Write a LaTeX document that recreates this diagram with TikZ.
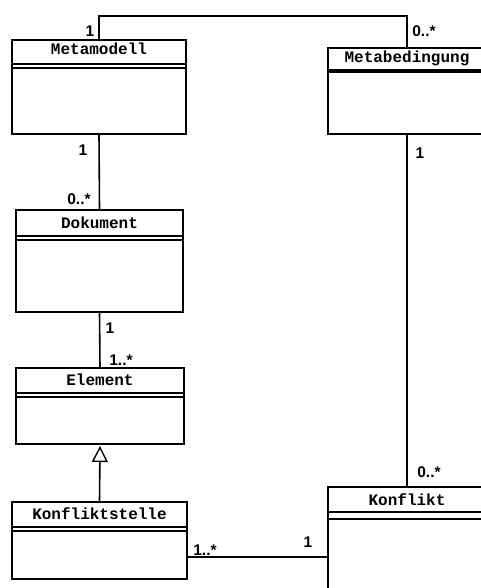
\documentclass[tikz,border=0pt]{standalone}
\usepackage{fontspec}
\setmainfont{Liberation Sans}
\newfontfamily\classfont{Liberation Mono}
\usetikzlibrary{calc,arrows.meta}
\begin{document}
\begin{tikzpicture}[x=1pt,y=-1pt,
  classbox/.style={draw,line width=1.6pt,anchor=north west,inner sep=0pt,outer sep=0pt},
  cname/.style={font=\classfont\bfseries\fontsize{16}{16}\selectfont,anchor=base,inner sep=0pt},
  hline/.style={line width=1.3pt},
  assoc/.style={line width=1.6pt},
  mult/.style={font=\bfseries\fontsize{15.5}{15.5}\selectfont,inner sep=0pt}]
\clip (0,0) rectangle (481,588);
\fill[white] (0,0) rectangle (481,588);

% classes
\node[classbox,minimum width=174,minimum height=94] (mm) at (12,40) {};
\node[cname] (mmt) at ($(mm.north)+(0,15)$) {Metamodell};
\draw[hline] ($(mm.north west)+(0,24)$) -- ($(mm.north east)+(0,24)$);
\draw[hline] ($(mm.north west)+(0,28)$) -- ($(mm.north east)+(0,28)$);

\node[classbox,minimum width=158,minimum height=86] (mb) at (328,48) {};
\node[cname] (mbt) at ($(mb.north)+(0,15)$) {Metabedingung};
\draw[line width=3.2pt] ($(mb.north west)+(0,23)$) -- ($(mb.north east)+(0,23)$);

\node[classbox,minimum width=167,minimum height=102] (dok) at (16,210) {};
\node[cname] (dokt) at ($(dok.north)+(0,18)$) {Dokument};
\draw[hline] ($(dok.north west)+(0,26)$) -- ($(dok.north east)+(0,26)$);
\draw[hline] ($(dok.north west)+(0,30)$) -- ($(dok.north east)+(0,30)$);

\node[classbox,minimum width=168,minimum height=76] (el) at (16,368) {};
\node[cname] (elt) at ($(el.north)+(0,17)$) {Element};
\draw[hline] ($(el.north west)+(0,25)$) -- ($(el.north east)+(0,25)$);
\draw[hline] ($(el.north west)+(0,29)$) -- ($(el.north east)+(0,29)$);

\node[classbox,minimum width=175,minimum height=77] (ks) at (12,502) {};
\node[cname] (kst) at ($(ks.north)+(0,17)$) {Konfliktstelle};
\draw[hline] ($(ks.north west)+(0,25)$) -- ($(ks.north east)+(0,25)$);
\draw[hline] ($(ks.north west)+(0,29)$) -- ($(ks.north east)+(0,29)$);

\node[classbox,minimum width=158,minimum height=120] (kf) at (328,487) {};
\node[cname] (kft) at ($(kf.north)+(0,18)$) {Konflikt};
\draw[hline] ($(kf.north west)+(0,25)$) -- ($(kf.north east)+(0,25)$);
\draw[hline] ($(kf.north west)+(0,32)$) -- ($(kf.north east)+(0,32)$);

% associations
\draw[assoc] (mm.north) -- ++(0,-24) -| (mb.north);
\draw[assoc] (mm.south) -- (dok.north);
\draw[assoc] (dok.south) -- (el.north);
\draw[assoc] (mb.south) -- (kf.north);
\coordinate (ky) at (0,557);
\draw[assoc] (ks.east |- ky) -- (kf.west |- ky);

% generalization
\draw[assoc,-{Triangle[open,length=16pt,width=16pt,line width=1.4pt]},shorten >=2pt] (ks.north) -- (el.south);

% multiplicities
\node[mult] (m1) at (90,31) {1};
\node[mult] (m2) at (424,31) {0..*};
\node[mult] (m3) at (83,150) {1};
\node[mult] (m4) at (79,199) {0..*};
\node[mult] (m5) at (110,328) {1};
\node[mult] (m6) at (121,360) {1..*};
\node[mult] (m7) at (420,153) {1};
\node[mult] (m8) at (429,472) {0..*};
\node[mult] (m9) at (205,550) {1..*};
\node[mult] (m10) at (308,542) {1};
\end{tikzpicture}
\end{document}
